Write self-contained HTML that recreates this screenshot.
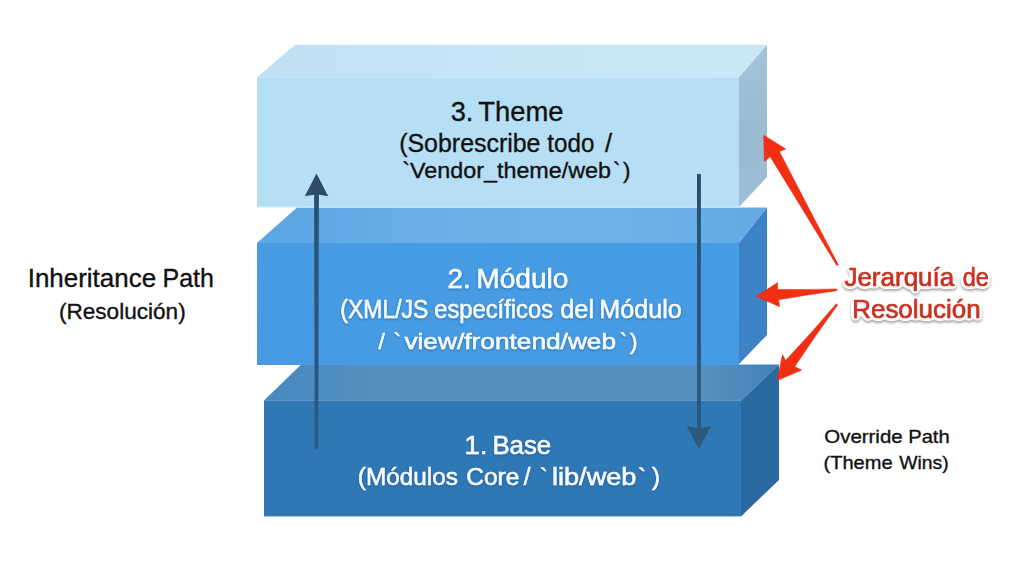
<!DOCTYPE html>
<html lang="es">
<head>
<meta charset="utf-8">
<title>Jerarquía de Resolución</title>
<style>
html,body{margin:0;padding:0;background:#fff;}
body{width:1024px;height:572px;overflow:hidden;position:relative;}
svg{position:absolute;left:0;top:0;display:block;}
text{font-family:"Liberation Sans",sans-serif;}
.blk{fill:#111;stroke:#111;stroke-width:0.35;}
.wht{fill:#f7fbff;stroke:#f7fbff;stroke-width:0.55;}
</style>
</head>
<body>
<svg width="1024" height="572" viewBox="0 0 1024 572">
<defs>
<linearGradient id="gTopT" gradientUnits="userSpaceOnUse" x1="257" y1="0" x2="767" y2="0"><stop offset="0" stop-color="#c0e1f5"/><stop offset="0.45" stop-color="#c6e5f6"/><stop offset="1" stop-color="#cae8f6"/></linearGradient>
<linearGradient id="gTopS" x1="0" y1="0" x2="0" y2="1"><stop offset="0" stop-color="#a3c4d9"/><stop offset="0.5" stop-color="#9abbd1"/><stop offset="1" stop-color="#9cbdd3"/></linearGradient>
<linearGradient id="gMidT" gradientUnits="userSpaceOnUse" x1="257" y1="0" x2="767" y2="0"><stop offset="0" stop-color="#5aa5e4"/><stop offset="0.3" stop-color="#69aee7"/><stop offset="0.65" stop-color="#70b3e8"/><stop offset="1" stop-color="#63aae5"/></linearGradient>
<linearGradient id="gMidF" x1="0" y1="0" x2="0" y2="1"><stop offset="0" stop-color="#479ce4"/><stop offset="1" stop-color="#469be3"/></linearGradient>
<linearGradient id="gBotT" gradientUnits="userSpaceOnUse" x1="264" y1="0" x2="779" y2="0"><stop offset="0" stop-color="#4888c0"/><stop offset="0.2" stop-color="#5390bf"/><stop offset="0.86" stop-color="#5591c0"/><stop offset="1" stop-color="#4281b8"/></linearGradient>
<linearGradient id="gRed" x1="0" y1="0" x2="0" y2="1"><stop offset="0" stop-color="#dd3b25"/><stop offset="1" stop-color="#bb2a1b"/></linearGradient>
<linearGradient id="gArr" gradientUnits="userSpaceOnUse" x1="0" y1="173" x2="0" y2="450"><stop offset="0" stop-color="#2c4b67"/><stop offset="0.12" stop-color="#2b4f6e"/><stop offset="0.3" stop-color="#2a567b"/><stop offset="0.9" stop-color="#2c587c"/><stop offset="1" stop-color="#2c5a82"/></linearGradient>
<filter id="outl" x="-10%" y="-20%" width="120%" height="150%" color-interpolation-filters="sRGB">
<feGaussianBlur in="SourceAlpha" stdDeviation="2.1" result="b1"/>
<feComponentTransfer in="b1" result="halo"><feFuncA type="linear" slope="16" intercept="-0.7"/></feComponentTransfer>
<feFlood flood-color="#ffffff"/><feComposite in2="halo" operator="in" result="white"/>
<feGaussianBlur in="halo" stdDeviation="1.3"/><feOffset dy="2" result="sb"/>
<feFlood flood-color="#000000" flood-opacity="0.33"/><feComposite in2="sb" operator="in" result="shadow"/>
<feMerge><feMergeNode in="shadow"/><feMergeNode in="white"/><feMergeNode in="SourceGraphic"/></feMerge>
</filter>
<filter id="tsh" x="-5%" y="-20%" width="110%" height="150%"><feDropShadow dx="0" dy="1" stdDeviation="0.9" flood-color="#0f3a6e" flood-opacity="0.5"/></filter>
</defs>
<rect width="1024" height="572" fill="#ffffff"/>

<!-- bottom block -->
<polygon points="264,400.4 301.2,364.5 779,364.5 741,400.4" fill="url(#gBotT)"/>
<polygon points="741,400.4 779,364.5 779,480 741,516.4" fill="#2a6aa0"/>
<rect x="264" y="400.4" width="477" height="116" fill="#2f78b6"/>

<!-- middle block -->
<polygon points="257,243 297,207.5 767,207.5 739,243" fill="url(#gMidT)"/>
<polygon points="739,243 767,207.5 767,335 739,364" fill="#3c82c4"/>
<rect x="257" y="243" width="482" height="122" fill="url(#gMidF)"/>

<!-- top block -->
<polygon points="257,77.3 295,44.7 767,44.7 739,77.3" fill="url(#gTopT)"/>
<polygon points="739,77.3 767,44.7 767,177 739,207" fill="url(#gTopS)"/>
<rect x="257" y="77.3" width="482" height="129.7" fill="#b6dff6"/>
<rect x="257" y="206.3" width="482" height="1.2" fill="#cdeaf9"/>

<!-- dark arrows -->
<g fill="url(#gArr)">
<polygon points="314.1,194 318.9,194 318.2,449.3 314.7,449.3"/>
<polygon points="316.5,173.5 328.2,196.2 316.5,194.2 304.8,196.2"/>
<rect x="697" y="174" width="3.9" height="256"/>
<polygon points="698.8,449.5 686.8,426.1 698.8,428.3 711.2,426.1"/>
</g>

<!-- red arrows -->
<g fill="#f22e13" stroke="#e02a12" stroke-width="0.5" stroke-linejoin="round">
<path d="M763.7,135.3 L785.9,149.1 L779.4,151.6 Q808.7,208.3 838.4,264.8 L836.8,265.6 Q803.7,211.1 770.2,156.7 L764.4,161.4 Z"/>
<path d="M756.0,296.3 L777.8,282.6 L777.4,289.4 Q807.1,289.8 836.7,288.9 L836.9,290.7 Q807.7,294.6 778.6,299.8 L779.6,306.7 Z"/>
<path d="M777.2,380.6 L782.5,354.4 L785.6,360.5 Q811.8,332.7 836.3,303.7 L837.7,304.9 Q815.4,335.2 794.7,366.7 L801.7,370.1 Z"/>
</g>

<!-- labels -->
<g class="blk">
<text y="286.8" font-size="25.0"><tspan x="27.7" textLength="128.4" lengthAdjust="spacingAndGlyphs">Inheritance</tspan> <tspan x="162.5" textLength="51.4" lengthAdjust="spacingAndGlyphs">Path</tspan></text>
<text y="318.6" font-size="21.5"><tspan x="58.9" textLength="126.8" lengthAdjust="spacingAndGlyphs">(Resolución)</tspan></text>
<text y="121.0" font-size="27.0"><tspan x="450.7" textLength="22.7" lengthAdjust="spacingAndGlyphs">3.</tspan> <tspan x="478.2" textLength="85.4" lengthAdjust="spacingAndGlyphs">Theme</tspan></text>
<text y="152.0" font-size="25.5"><tspan x="399.2" textLength="141.3" lengthAdjust="spacingAndGlyphs">(Sobrescribe</tspan> <tspan x="547.3" textLength="47.1" lengthAdjust="spacingAndGlyphs">todo</tspan> <tspan x="604.9">/</tspan></text>
<text y="177.9" font-size="22.3"><tspan x="402.2" textLength="208.9" lengthAdjust="spacingAndGlyphs">`Vendor_theme/web</tspan><tspan x="613.0">`</tspan><tspan x="623.0">)</tspan></text>
<text y="442.9" font-size="19.0"><tspan x="824.3" textLength="78.3" lengthAdjust="spacingAndGlyphs">Override</tspan> <tspan x="908.2" textLength="41.5" lengthAdjust="spacingAndGlyphs">Path</tspan></text>
<text y="468.5" font-size="18.5"><tspan x="823.5" textLength="69.1" lengthAdjust="spacingAndGlyphs">(Theme</tspan> <tspan x="899.3" textLength="49.4" lengthAdjust="spacingAndGlyphs">Wins)</tspan></text>
</g>
<g class="wht" filter="url(#tsh)">
<text y="287.6" font-size="27.2"><tspan x="447.6" textLength="23.2" lengthAdjust="spacingAndGlyphs">2.</tspan> <tspan x="476.2" textLength="92.3" lengthAdjust="spacingAndGlyphs">Módulo</tspan></text>
<text y="318.3" font-size="25.0"><tspan x="340.3" textLength="88.1" lengthAdjust="spacingAndGlyphs">(XML/JS</tspan> <tspan x="434.3" textLength="118.7" lengthAdjust="spacingAndGlyphs">específicos</tspan> <tspan x="560.2" textLength="33.9" lengthAdjust="spacingAndGlyphs">del</tspan> <tspan x="599.3" textLength="82.4" lengthAdjust="spacingAndGlyphs">Módulo</tspan></text>
<text y="348.9" font-size="22.6"><tspan x="378.6">/</tspan> <tspan x="393.5">`</tspan><tspan x="404.4" textLength="211.7" lengthAdjust="spacingAndGlyphs">view/frontend/web</tspan><tspan x="619.7">`</tspan><tspan x="629.9">)</tspan></text>
<text y="454.1" font-size="26.3"><tspan x="464.2" textLength="23.3" lengthAdjust="spacingAndGlyphs">1.</tspan> <tspan x="492.4" textLength="58.8" lengthAdjust="spacingAndGlyphs">Base</tspan></text>
<text y="485.0" font-size="24.2"><tspan x="357.8" textLength="100.1" lengthAdjust="spacingAndGlyphs">(Módulos</tspan> <tspan x="466.2" textLength="53.1" lengthAdjust="spacingAndGlyphs">Core</tspan> <tspan x="523.8">/</tspan> <tspan x="539.8">`</tspan><tspan x="552.0" textLength="84.4" lengthAdjust="spacingAndGlyphs">lib/web</tspan><tspan x="638.1">`</tspan><tspan x="652.0">)</tspan></text>
</g>
<g fill="url(#gRed)" stroke="#c93121" stroke-width="0.7" filter="url(#outl)">
<text y="286.0" font-size="26.0"><tspan x="844.4" textLength="109.9" lengthAdjust="spacingAndGlyphs">Jerarquía</tspan> <tspan x="962.7" textLength="26.1" lengthAdjust="spacingAndGlyphs">de</tspan></text>
<text y="318.2" font-size="26.0"><tspan x="852.2" textLength="128.5" lengthAdjust="spacingAndGlyphs">Resolución</tspan></text>
</g>
</svg>
</body>
</html>
